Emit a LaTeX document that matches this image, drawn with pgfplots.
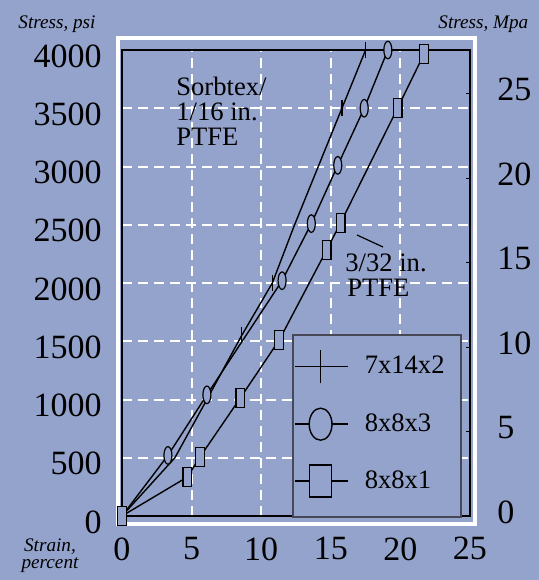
\documentclass[border=0pt]{standalone}
\usepackage{fontspec}
\setmainfont{Liberation Serif}
\usepackage{pgfplots}
\pgfplotsset{compat=1.18}
\definecolor{bgcol}{RGB}{148,163,203}
\definecolor{legframe}{RGB}{70,72,85}
\newcommand\ticksize{\fontsize{17}{19}\selectfont}
\newcommand\notesize{\fontsize{13.3}{12.6}\selectfont}
\newcommand\capsize{\fontsize{9.6}{8.6}\selectfont\itshape}

\begin{document}
\begin{tikzpicture}
\useasboundingbox (0,0) rectangle (269.5pt,290pt);
\fill[bgcol] (0,0) rectangle (269.5pt,290pt);
% white outer frame
\draw[white, line width=2pt] (58.75pt,27.75pt) rectangle (237.25pt,270.75pt);

\begin{axis}[
  at={(61pt,32pt)}, anchor=south west,
  scale only axis, width=174pt, height=233pt,
  xmin=0, xmax=25, ymin=0, ymax=4000,
  xtick={0,5,...,25}, ytick={0,500,...,4000},
  grid=major,
  grid style={white, line width=1pt, dash pattern=on 5pt off 3pt},
  major tick length=0pt,
  axis line style={black, line width=1.2pt},
  tick label style={font=\ticksize, inner sep=0pt},
  yticklabel style={anchor=east, xshift=-10pt, yshift=-3pt},
  xticklabel style={anchor=north, yshift=-10.5pt},
  /pgf/number format/assume math mode=true,
  /pgf/number format/1000 sep={},
  clip=false,
  legend style={at={(axis description cs:0.4928,0.3584)}, anchor=north west,
    draw=none, fill=none, inner sep=0pt, row sep=11.75pt,
    font=\fontsize{13.3}{15}\selectfont,
    nodes={inner xsep=2.75pt, inner ysep=0pt, anchor=west}},
  legend cell align=left,
]
% 7x14x2
\addplot[black, line width=0.7pt, mark=|, mark size=4pt,
  mark indices={1,4,5,8,9}, mark options={solid, line width=0.7pt},
  legend image code/.code={
    \draw[black, line width=0.7pt] (0pt,0pt) -- (26.5pt,0pt);
    \draw[black, line width=0.7pt] (13pt,-8.3pt) -- (13pt,8.3pt);
  }] coordinates {
  (0,0) (3.8,500) (6.1,1000) (8.6,1550) (10.8,2000)
  (12.4,2500) (14.1,3000) (15.8,3500) (17.5,4000)};
\addlegendentry{\hspace{5.5pt}7x14x2}
% 8x8x3
\addplot[black, line width=0.7pt, mark=*, mark size=2pt,
  mark options={solid, fill=bgcol, draw=black, line width=0.6pt, yscale=2.2},
  legend image code/.code={
    \draw[black, line width=0.7pt] (0pt,0pt) -- (26.5pt,0pt);
    \draw[black, line width=0.7pt, fill=bgcol] (13pt,0pt) ellipse (5.7pt and 8pt);
  }] coordinates {
  (0,0) (3.3,520) (6.1,1040) (11.5,2020) (13.6,2510)
  (15.5,3010) (17.4,3500) (19.1,4000)};
\addlegendentry{\hspace{5.5pt}8x8x3}
% 8x8x1
\addplot[black, line width=0.7pt, mark=square*, mark size=2.2pt,
  mark options={solid, fill=bgcol, draw=black, line width=0.6pt, yscale=2.1},
  legend image code/.code={
    \draw[black, line width=0.7pt] (0pt,0pt) -- (26.5pt,0pt);
    \draw[black, line width=0.7pt, fill=bgcol] (7.5pt,-8pt) rectangle (18.5pt,8pt);
  }] coordinates {
  (0,0) (4.7,335) (5.6,506) (8.5,1013) (11.3,1511)
  (14.7,2283) (15.7,2515) (19.8,3502) (21.7,3966)};
\addlegendentry{\hspace{5.5pt}8x8x1}
% legend frame
\draw[legframe, line width=0.6pt, fill=bgcol]
  (axis cs:12.28,-8.6) rectangle (axis cs:24.35,1553.6);
\end{axis}

% MPa scale on the right
\begin{axis}[
  at={(61pt,32pt)}, anchor=south west,
  scale only axis, width=174pt, height=233pt,
  xmin=0, xmax=25, ymin=0, ymax=27.579,
  axis x line=none, axis y line*=right,
  ytick={0,5,...,25},
  axis line style={black, line width=1.2pt},
  major tick length=2pt,
  tick style={black, line width=0.5pt},
  tick label style={font=\ticksize, inner sep=0pt},
  yticklabel style={anchor=west, xshift=13.5pt, yshift=2pt},
  /pgf/number format/assume math mode=true,
]
\end{axis}

% captions
\node[anchor=base west, inner sep=0pt, font=\capsize] at (9pt,276pt) {Stress, psi};
\node[anchor=base west, inner sep=0pt, font=\capsize] at (219pt,276pt) {Stress, Mpa};
\node[anchor=north, inner sep=0pt, font=\capsize, align=center] at (25pt,21pt) {Strain,\\percent};

% curve notes
\node[anchor=north west, inner sep=0pt, font=\notesize, align=left]
  at (88pt,251.8pt) {Sorbtex/\\1/16 in.\\PTFE};
\node[anchor=north west, inner sep=0pt, font=\notesize, align=left]
  at (172.5pt,163.3pt) {3/32 in.\\\hspace{1pt}PTFE};
\draw[black, line width=0.6pt] (178.5pt,172.5pt) -- (191.5pt,166.5pt);
\end{tikzpicture}
\end{document}
